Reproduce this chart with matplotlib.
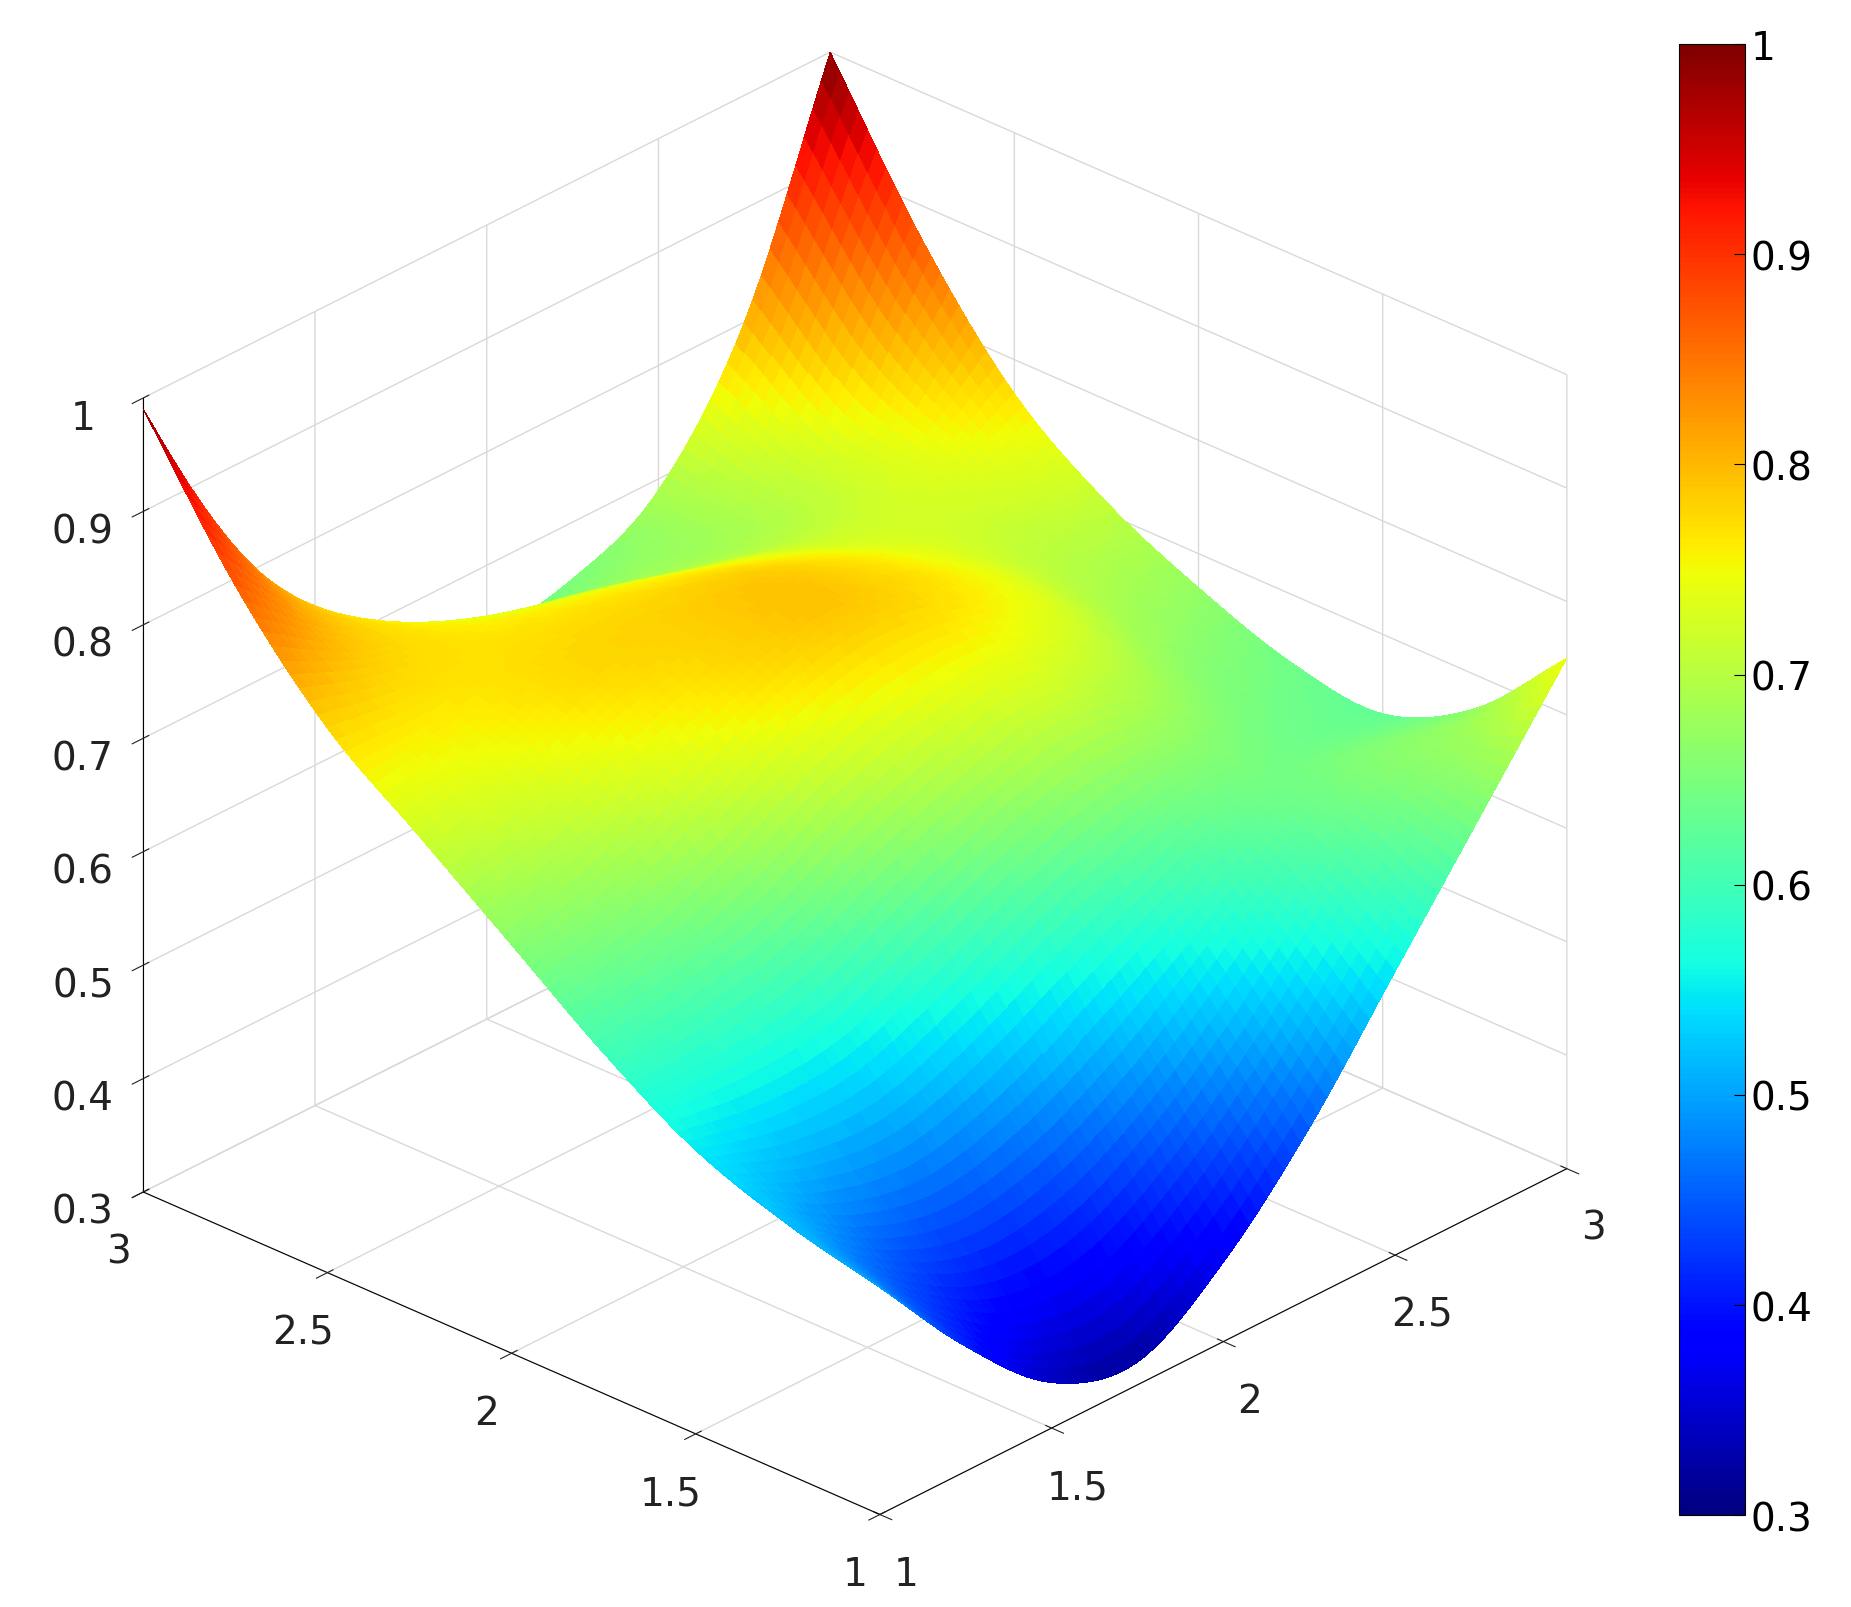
import numpy as np
import matplotlib
matplotlib.use("Agg")
import matplotlib.pyplot as plt
from matplotlib import cm, colors

x_vals = [1.0, 1.25, 1.5, 1.75, 2.0, 2.25, 2.5, 2.75, 3.0]   # right axis
y_vals = [1.0, 1.25, 1.5, 1.75, 2.0, 2.25, 2.5, 2.75, 3.0]   # left axis
# rows: y value, cols: x value
z_vals = [
    [0.50, 0.41, 0.34, 0.32, 0.37, 0.45, 0.55, 0.65, 0.75],
    [0.52, 0.46, 0.43, 0.44, 0.48, 0.54, 0.61, 0.66, 0.67],
    [0.55, 0.53, 0.53, 0.56, 0.60, 0.63, 0.65, 0.64, 0.63],
    [0.60, 0.61, 0.63, 0.67, 0.70, 0.72, 0.70, 0.66, 0.64],
    [0.66, 0.68, 0.72, 0.76, 0.78, 0.77, 0.74, 0.69, 0.67],
    [0.72, 0.74, 0.77, 0.78, 0.79, 0.77, 0.74, 0.71, 0.71],
    [0.78, 0.77, 0.77, 0.77, 0.76, 0.74, 0.72, 0.73, 0.77],
    [0.87, 0.80, 0.76, 0.73, 0.71, 0.69, 0.69, 0.74, 0.87],
    [0.99, 0.83, 0.73, 0.67, 0.64, 0.65, 0.69, 0.80, 1.00],
]
xy_ticks = [1, 1.5, 2, 2.5, 3]
xy_labels = ["1", "1.5", "2", "2.5", "3"]
z_ticks = [0.3, 0.4, 0.5, 0.6, 0.7, 0.8, 0.9, 1.0]
z_labels = ["0.3", "0.4", "0.5", "0.6", "0.7", "0.8", "0.9", "1"]


def smooth_render(arr, factor, axis):
    """Catmull-Rom resampling used only to draw a smooth (interp-shaded) surface."""
    arr = np.moveaxis(np.asarray(arr, float), axis, 0)
    n = arr.shape[0]
    p = np.concatenate([2 * arr[:1] - arr[1:2], arr, 2 * arr[-1:] - arr[-2:-1]])
    out = []
    for i in range(n - 1):
        p0, p1, p2, p3 = p[i], p[i + 1], p[i + 2], p[i + 3]
        for t in np.linspace(0, 1, factor, endpoint=False):
            out.append(0.5 * (2 * p1 + (-p0 + p2) * t + (2 * p0 - 5 * p1 + 4 * p2 - p3) * t**2
                              + (-p0 + 3 * p1 - 3 * p2 + p3) * t**3))
    out.append(arr[-1])
    return np.moveaxis(np.array(out), 0, axis)


F = 10
Zs = smooth_render(smooth_render(z_vals, F, 0), F, 1)
xs = smooth_render(x_vals, F, 0)
ys = smooth_render(y_vals, F, 0)
X, Y = np.meshgrid(xs, ys)

fig = plt.figure(figsize=(18.51, 16.08), dpi=100)
ax = fig.add_axes([-0.02, -0.01, 0.94, 1.017], projection="3d", proj_type="ortho")
norm = colors.Normalize(0.3, 1.0)
ax.plot_surface(X, Y, Zs, cmap="jet", norm=norm, linewidth=0, antialiased=False,
                rstride=1, cstride=1, shade=False)
ax.set_xlim(1, 3); ax.set_ylim(1, 3); ax.set_zlim(0.3, 1)
ax.set_xticks(xy_ticks); ax.set_xticklabels(xy_labels)
ax.set_yticks(xy_ticks); ax.set_yticklabels(xy_labels)
ax.set_zticks(z_ticks); ax.set_zticklabels(z_labels)
ax.view_init(elev=28, azim=-137)
for a in (ax.xaxis, ax.yaxis, ax.zaxis):
    a.set_pane_color((1, 1, 1, 0))
    a._axinfo["grid"]["color"] = (0.85, 0.85, 0.85, 1)
    a._axinfo["grid"]["linewidth"] = 1.0
    a.line.set_color("black")
ax.tick_params(labelsize=28, colors="#222222")
ax.tick_params(axis="x", pad=14)
ax.tick_params(axis="y", pad=14)
ax.tick_params(axis="z", pad=18)
ax.set_box_aspect((1.12, 1.12, 1))

cax = fig.add_axes([0.907, 0.057, 0.036, 0.915])
cb = fig.colorbar(cm.ScalarMappable(norm=norm, cmap="jet"), cax=cax)
cb.set_ticks(z_ticks); cb.set_ticklabels(z_labels)
cb.ax.tick_params(labelsize=28, direction="in", length=8)
fig.savefig("out.png", dpi=100, facecolor="white")
